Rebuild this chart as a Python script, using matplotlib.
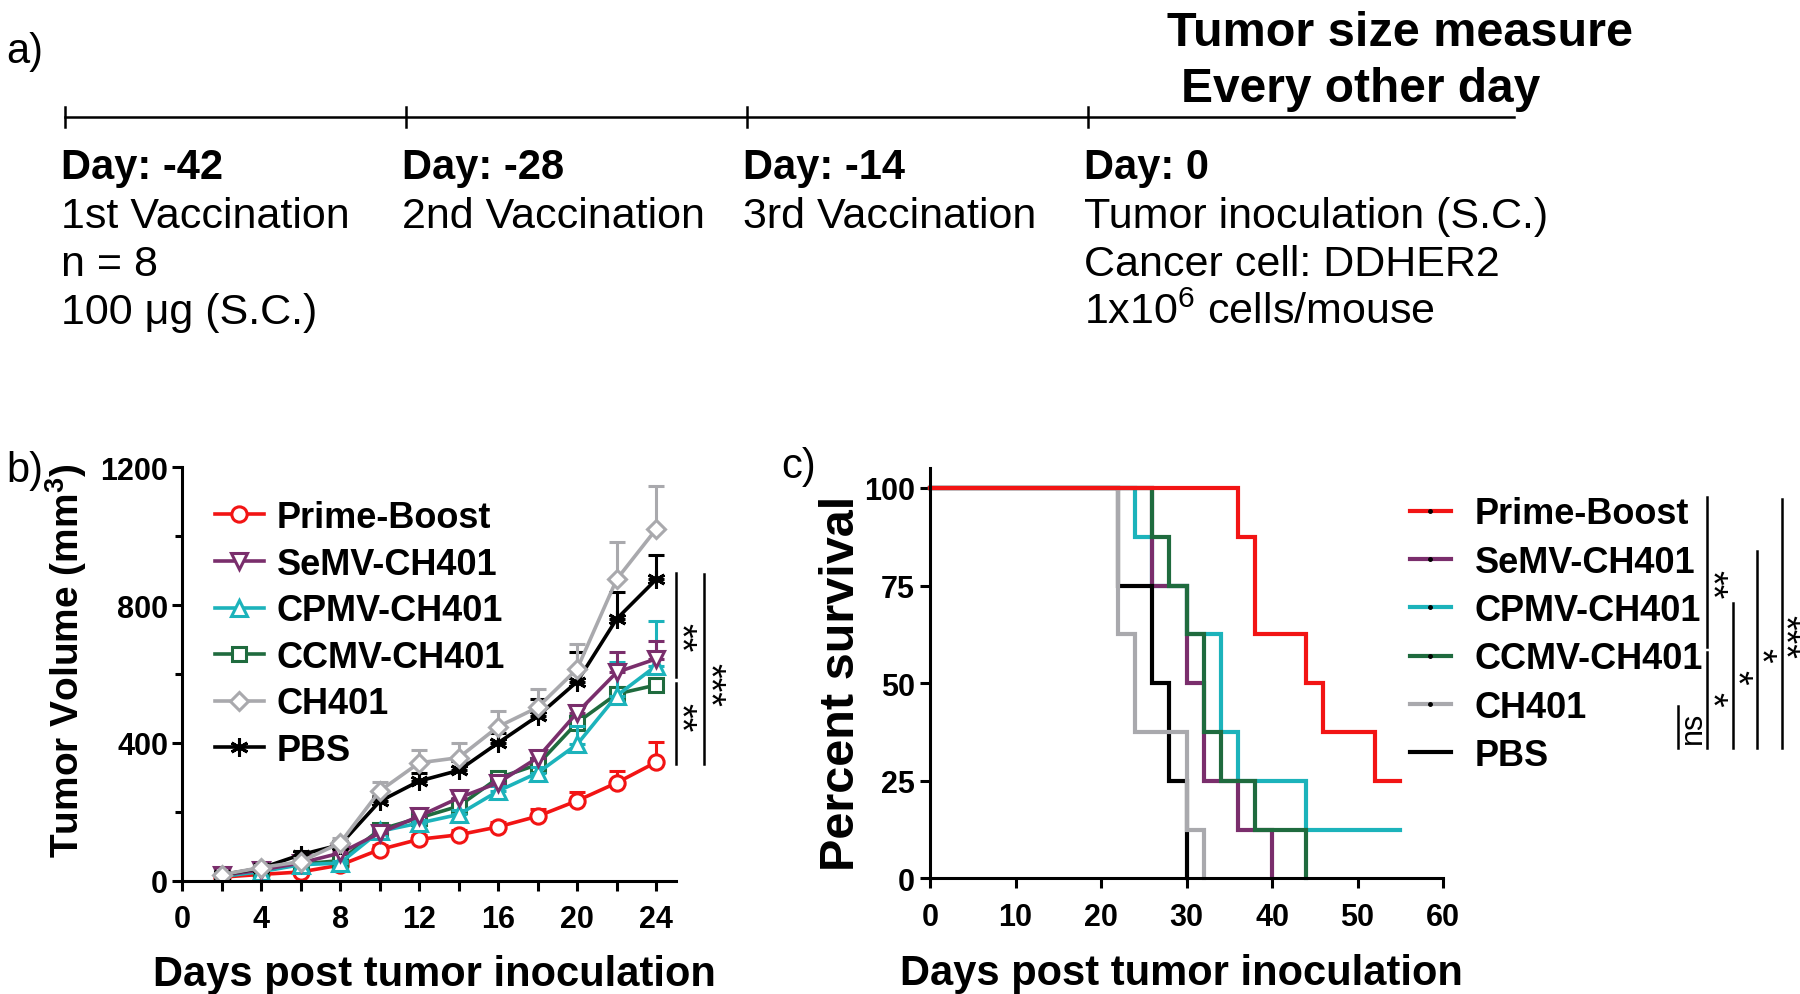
import numpy as np
import matplotlib
matplotlib.use('Agg')
import matplotlib.pyplot as plt
from matplotlib.lines import Line2D

plt.rcParams['font.family'] = ['Liberation Sans', 'DejaVu Sans']
plt.rcParams['mathtext.default'] = 'regular'

# ---------------- data ----------------
# a) timeline
tl_days = [-42, -28, -14, 0]
tl_end = 17.5
tl_titles = ['Day: -42', 'Day: -28', 'Day: -14', 'Day: 0']
tl_notes = [['1st Vaccination', 'n = 8', '100 \u03bcg (S.C.)'],
            ['2nd Vaccination'],
            ['3rd Vaccination'],
            ['Tumor inoculation (S.C.)', 'Cancer cell: DDHER2',
             '1x10$^{6}$ cells/mouse']]

# b) tumor volume, mean and upper SEM
days = [2, 4, 6, 8, 10, 12, 14, 16, 18, 20, 22, 24]
groups = ['Prime-Boost', 'SeMV-CH401', 'CPMV-CH401', 'CCMV-CH401', 'CH401', 'PBS']
vol = {
    'Prime-Boost': [10, 18, 25, 45, 90, 120, 133, 156, 187, 232, 284, 344],
    'SeMV-CH401': [15, 31, 51, 80, 138, 187, 240, 284, 357, 488, 605, 644],
    'CPMV-CH401': [12, 26, 46, 51, 143, 167, 192, 260, 313, 396, 537, 624],
    'CCMV-CH401': [12, 28, 48, 58, 148, 182, 216, 298, 337, 459, 542, 568],
    'CH401': [17, 38, 55, 109, 260, 342, 357, 447, 503, 615, 875, 1021],
    'PBS': [17, 36, 75, 104, 230, 289, 320, 400, 478, 578, 760, 875],
}
sem = {
    'Prime-Boost': [3, 5, 6, 8, 12, 12, 14, 14, 20, 26, 34, 58],
    'SeMV-CH401': [3, 5, 6, 8, 10, 12, 14, 16, 18, 15, 58, 53],
    'CPMV-CH401': [3, 4, 5, 6, 8, 10, 12, 14, 16, 53, 97, 129],
    'CCMV-CH401': [3, 4, 5, 6, 8, 10, 12, 14, 16, 20, 20, 17],
    'CH401': [5, 8, 10, 15, 26, 37, 42, 46, 53, 73, 107, 124],
    'PBS': [5, 8, 10, 12, 15, 24, 27, 30, 49, 85, 78, 70],
}

# c) survival (step times / percent)
surv_t = {
    'Prime-Boost': [0, 36, 38, 44, 46, 52, 55],
    'SeMV-CH401': [0, 26, 30, 32, 36, 40],
    'CPMV-CH401': [0, 24, 26, 30, 34, 36, 44, 55],
    'CCMV-CH401': [0, 26, 28, 30, 32, 34, 38, 44],
    'CH401': [0, 22, 24, 30, 32],
    'PBS': [0, 22, 26, 28, 30],
}
surv_p = {
    'Prime-Boost': [100, 87.5, 62.5, 50, 37.5, 25, 25],
    'SeMV-CH401': [100, 75, 50, 25, 12.5, 0],
    'CPMV-CH401': [100, 87.5, 75, 62.5, 37.5, 25, 12.5, 12.5],
    'CCMV-CH401': [100, 87.5, 75, 62.5, 37.5, 25, 12.5, 0],
    'CH401': [100, 62.5, 37.5, 12.5, 0],
    'PBS': [100, 75, 50, 25, 0],
}

colors = {'Prime-Boost': '#f21414', 'SeMV-CH401': '#7a2e6c',
          'CPMV-CH401': '#1cb3bb', 'CCMV-CH401': '#1f6b3e',
          'CH401': '#a9a9ad', 'PBS': '#000000'}
markers = {'Prime-Boost': 'o', 'SeMV-CH401': 'v', 'CPMV-CH401': '^',
           'CCMV-CH401': 's', 'CH401': 'D', 'PBS': (6, 2, 0)}
msize = {'Prime-Boost': 11, 'SeMV-CH401': 11, 'CPMV-CH401': 11,
         'CCMV-CH401': 10, 'CH401': 9, 'PBS': 13}

# significance bars: (x, y0, y1, text, text x, text y)
sig_b = [(25.0, 591, 894, '**', 25.15, 708),
         (25.0, 339, 575, '**', 25.15, 475),
         (26.4, 339, 889, '***', 26.6, 572)]
sig_c = [(87.5, 33.4, 44.1, 'ns', 89.2, 38.8),
         (90.9, 59.3, 97.7, '**', 91.2, 75.4),
         (90.9, 33.4, 58.0, '*', 91.2, 46.0),
         (93.9, 33.4, 70.5, '*', 94.2, 51.8),
         (96.7, 33.4, 83.9, '*', 97.0, 57.5),
         (99.6, 33.4, 97.2, '***', 99.8, 62.2)]

fig = plt.figure(figsize=(18, 9.95), dpi=100)

# ---------------- a) timeline ----------------
ax_a = fig.add_axes([0, 0.6, 1, 0.4])
ax_a.axis('off')
ax_a.set_xlim(-44.67, 29.22)
ax_a.set_ylim(398, 0)
ax_a.plot([tl_days[0], tl_end], [118, 118], color='k', lw=1.8)
off = -0.16
for d, title, notes in zip(tl_days, tl_titles, tl_notes):
    ax_a.plot([d, d], [108, 128], color='k', lw=1.8)
    ax_a.text(d + off, 168, title, fontsize=30, fontweight='bold',
              ha='left', va='center')
    for k, line in enumerate(notes):
        ax_a.text(d + off, 217 + k * 48, line, fontsize=31,
                  ha='left', va='center')
fig.text(1400 / 1800, 1 - 33 / 995, 'Tumor size measure', fontsize=35,
         fontweight='bold', ha='center', va='center')
fig.text(1361 / 1800, 1 - 89 / 995, 'Every other day', fontsize=34.5,
         fontweight='bold', ha='center', va='center')
fig.text(6 / 1800, 1 - 52 / 995, 'a)', fontsize=30, ha='left', va='center')


def style_axes(ax):
    for s in ['top', 'right']:
        ax.spines[s].set_visible(False)
    for s in ['left', 'bottom']:
        ax.spines[s].set_linewidth(2.2)
    ax.tick_params(which='both', width=2.2, direction='out')
    for lab in ax.get_xticklabels() + ax.get_yticklabels():
        lab.set_fontweight('bold')
        lab.set_fontsize(22)


def sig(ax, bars, fs):
    for x, y0, y1, txt, tx, ty in bars:
        ax.plot([x, x], [y0, y1], color='k', lw=1.8, clip_on=False)
        if txt == 'ns':
            ax.text(tx, ty, txt, fontsize=22, rotation=90, ha='center',
                    va='center', clip_on=False)
        else:
            ax.text(tx, ty, txt, fontsize=fs, rotation=270, ha='center',
                    va='center', clip_on=False)


# ---------------- b) tumor volume ----------------
ax_b = fig.add_axes([182 / 1800, 1 - 881.6 / 995, 494 / 1800, 413.2 / 995])
draw_order = ['Prime-Boost', 'CCMV-CH401', 'CPMV-CH401', 'SeMV-CH401', 'PBS', 'CH401']
handles = {}
for g in draw_order:
    y = np.array(vol[g])
    e = np.array(sem[g])
    ax_b.errorbar(days, y, yerr=[np.zeros_like(e), e], fmt='none',
                  ecolor=colors[g], elinewidth=2.2, capsize=6, capthick=2.2)
    filled = markers[g] == (6, 2, 0)
    ln, = ax_b.plot(days, y, color=colors[g], lw=2.6, marker=markers[g],
                    ms=msize[g], mfc=colors[g] if filled else 'white',
                    mec=colors[g], mew=2.2)
    handles[g] = ln
ax_b.set_xlim(0, 25)
ax_b.set_ylim(0, 1200)
ax_b.set_xticks(range(0, 25, 4))
ax_b.set_xticks(range(2, 25, 4), minor=True)
ax_b.set_yticks([0, 400, 800, 1200])
ax_b.set_yticks([200, 600, 1000], minor=True)
ax_b.tick_params(axis='x', which='both', length=7, pad=10)
ax_b.tick_params(axis='y', which='major', length=7, pad=3)
ax_b.tick_params(axis='y', which='minor', length=5)
style_axes(ax_b)
ax_b.set_ylabel('Tumor Volume (mm$^{3}$)', fontsize=28, fontweight='bold')
ax_b.yaxis.set_label_coords(-0.188, 0.535)
ax_b.set_xlabel('Days post tumor inoculation', fontsize=30, fontweight='bold')
ax_b.xaxis.set_label_coords(0.51, -0.178)
ax_b.legend([handles[g] for g in groups], groups, loc='upper left',
            bbox_to_anchor=(0.067, 0.921), frameon=False, borderpad=0,
            borderaxespad=0, handlelength=1.35, handletextpad=0.35,
            labelspacing=0.32, prop={'size': 26, 'weight': 'bold'})
sig(ax_b, sig_b, 27)
fig.text(6 / 1800, 1 - 471 / 995, 'b)', fontsize=30, ha='left', va='center')

# ---------------- c) survival ----------------
ax_c = fig.add_axes([930 / 1800, 1 - 879.4 / 995, 513 / 1800, 410 / 995])
surv_order = ['CPMV-CH401', 'SeMV-CH401', 'CCMV-CH401', 'PBS', 'CH401', 'Prime-Boost']
for g in surv_order:
    ax_c.step(surv_t[g], surv_p[g], where='post', color=colors[g], lw=3,
              solid_joinstyle='miter', clip_on=False)
ax_c.set_xlim(0, 60)
ax_c.set_ylim(0, 105)
ax_c.set_xticks(range(0, 61, 10))
ax_c.set_yticks([0, 25, 50, 75, 100])
ax_c.tick_params(axis='x', length=7, pad=10)
ax_c.tick_params(axis='y', length=7, pad=4)
style_axes(ax_c)
ax_c.set_ylabel('Percent survival', fontsize=35, fontweight='bold')
ax_c.yaxis.set_label_coords(-0.128, 0.479)
ax_c.set_xlabel('Days post tumor inoculation', fontsize=30, fontweight='bold')
ax_c.xaxis.set_label_coords(0.49, -0.183)
c_handles = []
for g in groups:
    if g == 'PBS':
        c_handles.append(Line2D([], [], color=colors[g], lw=3))
    else:
        c_handles.append(Line2D([], [], color=colors[g], lw=3, marker='o',
                                ms=2.5, mfc='k', mec='k'))
ax_c.legend(c_handles, groups, loc='upper left', bbox_to_anchor=(0.936, 0.932),
            frameon=False, borderpad=0, borderaxespad=0, handlelength=1.12,
            handletextpad=0.66, labelspacing=0.37,
            prop={'size': 26, 'weight': 'bold'})
sig(ax_c, sig_c, 27)
fig.text(781 / 1800, 1 - 467 / 995, 'c)', fontsize=30, ha='left', va='center')

fig.savefig('out.png', dpi=100)
